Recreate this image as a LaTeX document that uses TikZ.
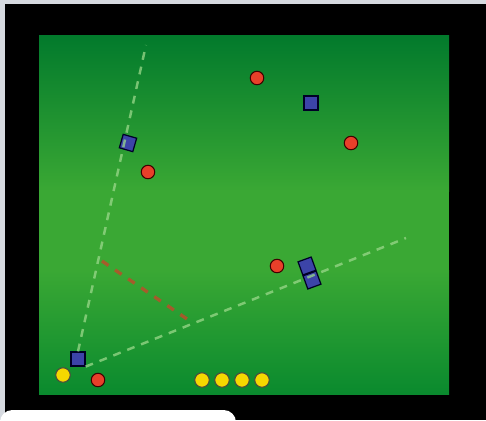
\documentclass[tikz,border=0pt]{standalone}
\usepackage{xcolor}

\definecolor{framegray}{HTML}{D6DAE0}
\definecolor{pitchtop}{HTML}{027A2C}
\definecolor{pitchmid}{HTML}{3AA834}
\definecolor{pitchlow}{HTML}{0A8A2E}
\definecolor{runline}{HTML}{9AD88A}
\definecolor{passline}{HTML}{B8502A}
\definecolor{redfill}{HTML}{E8402A}
\definecolor{yellowfill}{HTML}{F5D800}
\definecolor{bluefill}{HTML}{3C44A8}

\tikzset{
    redplayer/.style={circle, draw=black!75!red, line width=0.6pt, fill=redfill,
        minimum size=0.27cm, inner sep=0pt},
    yellowplayer/.style={circle, draw=black!80!yellow, line width=0.6pt, fill=yellowfill,
        minimum size=0.29cm, inner sep=0pt},
    blueplayer/.style={rectangle, draw=black!85!blue, line width=0.7pt, fill=bluefill,
        minimum size=0.28cm, inner sep=0pt},
    runpath/.style={runline, opacity=0.75, line width=1.4pt, dash pattern=on 4.5pt off 4pt},
    passpath/.style={passline, opacity=0.85, line width=1.9pt, dash pattern=on 4.5pt off 4.5pt}
}

\begin{document}
\begin{tikzpicture}[x=0.02cm, y=-0.02cm]
        \useasboundingbox (0,0) rectangle (486,420);
        \fill[framegray] (0,0) rectangle (486,420);
        \fill[black] (5,4) rectangle (486,420);
        \fill[white, rounded corners=7pt] (0,410) rectangle (236,440);
        % pitch, light in the middle
        \shade[top color=pitchtop, bottom color=pitchmid] (39,35) rectangle (449,191);
        \fill[pitchmid] (39,190) rectangle (449,271);
        \shade[top color=pitchmid, bottom color=pitchlow] (39,270) rectangle (449,394);
        \coordinate (runA) at (146,45);
        \coordinate (runB) at (406,238);
        \coordinate (passA) at (102,261);
        \coordinate (passB) at (187,319);
        \foreach \n/\x/\y in {1/257/78,2/351/143,3/148/172,4/277/266,5/98/380} {
            \node[redplayer] (r\n) at (\x,\y) {};
        }
        \foreach \n/\x/\y in {1/63/375,2/202/380,3/222/380,4/242/380,5/262/380} {
            \node[yellowplayer] (y\n) at (\x,\y) {};
        }
        \foreach \n/\x/\y/\a in {1/128/143/-16,2/311/103/0,3/307/266/20,4/312/280/20,5/78/359/0} {
            \node[blueplayer, rotate=\a] (b\n) at (\x,\y) {};
        }
        \draw[runpath] (b5.north) -- (runA);
        \draw[runpath] (b5.south east) -- (runB);
        \draw[passpath] (passA) -- (passB);
    \end{tikzpicture}
\end{document}
